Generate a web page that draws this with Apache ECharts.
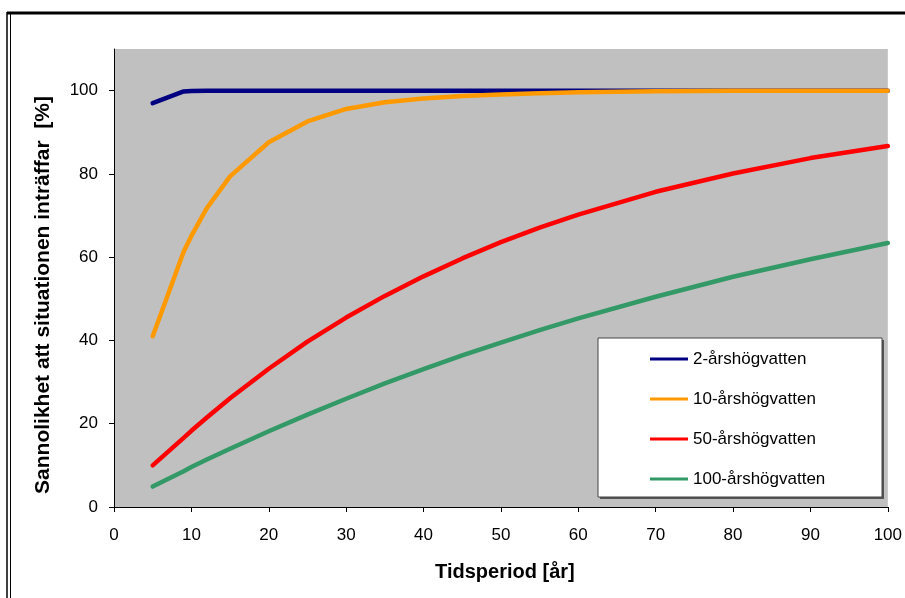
<!DOCTYPE html>
<html>
<head>
<meta charset="utf-8">
<script src="https://cdn.jsdelivr.net/npm/echarts@6/dist/echarts.min.js"></script>
<style>
html,body{margin:0;padding:0;background:#fff;}
#chart{width:905px;height:598px;}
</style>
</head>
<body>
<div id="chart"></div>
<script>
const years = [5, 9, 10, 12, 15, 20, 25, 30, 35, 40, 45, 50, 55, 60, 70, 80, 90, 100];
const seriesNames = ['2-årshögvatten', '10-årshögvatten', '50-årshögvatten', '100-årshögvatten'];
const hw2   = [97, 99.8, 99.9, 100, 100, 100, 100, 100, 100, 100, 100, 100, 100, 100, 100, 100, 100, 100];
const hw10  = [41, 61.3, 65.1, 71.8, 79.4, 87.6, 92.6, 95.6, 97.2, 98.1, 98.7, 99.1, 99.4, 99.6, 99.85, 100, 100, 100];
const hw50  = [10, 16.6, 18.3, 21.5, 26.1, 33.2, 39.7, 45.5, 50.7, 55.4, 59.7, 63.6, 67.1, 70.2, 75.7, 80.1, 83.8, 86.7];
const hw100 = [4.9, 8.6, 9.6, 11.4, 14, 18.2, 22.2, 26, 29.7, 33.1, 36.4, 39.5, 42.5, 45.3, 50.5, 55.3, 59.5, 63.4];
const xTicks = [0, 10, 20, 30, 40, 50, 60, 70, 80, 90, 100];
const yTicks = [0, 20, 40, 60, 80, 100];
const colors = ['#000080', '#FF9900', '#FF0000', '#339966'];
const allValues = [hw2, hw10, hw50, hw100];

const FONT = '"Liberation Sans", Arial, sans-serif';
const chart = echarts.init(document.getElementById('chart'));

const series = seriesNames.map((name, i) => ({
  name: name,
  type: 'line',
  data: years.map((x, j) => [x, allValues[i][j]]),
  showSymbol: false,
  lineStyle: { color: colors[i], width: 4.5, cap: 'round', join: 'round' },
  itemStyle: { color: colors[i] },
  emphasis: { disabled: true },
  animation: false
}));

chart.setOption({
  backgroundColor: '#ffffff',
  animation: false,
  grid: {
    left: 114, top: 49, width: 775, height: 458,
    show: true, backgroundColor: '#C0C0C0', borderWidth: 0
  },
  xAxis: {
    type: 'value', min: 0, max: 100, interval: 10,
    name: 'Tidsperiod [år]', nameLocation: 'middle', nameGap: 55,
    nameTextStyle: { fontFamily: FONT, fontSize: 20, fontWeight: 'bold', color: '#000', padding: [0, 0, 0, 8] },
    axisLine: { show: true, lineStyle: { color: '#000', width: 1 } },
    axisTick: { show: true, length: 5, inside: false, lineStyle: { color: '#000' }, customValues: xTicks },
    axisLabel: { fontFamily: FONT, fontSize: 17, color: '#000', margin: 20, customValues: xTicks },
    splitLine: { show: false }
  },
  yAxis: {
    type: 'value', min: 0, max: 110, interval: 10,
    name: 'Sannolikhet att situationen inträffar  [%]', nameLocation: 'middle', nameGap: 60,
    nameRotate: 90,
    nameTextStyle: { fontFamily: FONT, fontSize: 21, fontWeight: 'bold', color: '#000', padding: [0, 34, 0, 0] },
    axisLine: { show: true, lineStyle: { color: '#000', width: 1 } },
    axisTick: { show: true, length: 5, inside: false, lineStyle: { color: '#000' }, customValues: yTicks },
    axisLabel: { fontFamily: FONT, fontSize: 17, color: '#000', margin: 16, customValues: yTicks },
    splitLine: { show: false }
  },
  legend: {
    orient: 'vertical', left: 650, top: 349, padding: 0,
    icon: 'rect', itemWidth: 38, itemHeight: 3, itemGap: 20,
    textStyle: { fontFamily: FONT, fontSize: 17, color: '#000', lineHeight: 20 },
    data: seriesNames, selectedMode: false, z: 10
  },
  graphic: [
    { type: 'rect', shape: { x: 600, y: 340, width: 284, height: 159 }, style: { fill: '#555' }, z: 5 },
    { type: 'rect', shape: { x: 598, y: 338, width: 284, height: 159 }, style: { fill: '#fff', stroke: '#444', lineWidth: 1 }, z: 6 },
    { type: 'line', shape: { x1: 7, y1: 13, x2: 905, y2: 13 }, style: { stroke: '#000', lineWidth: 3 }, z: 6 },
    { type: 'line', shape: { x1: 7, y1: 12, x2: 7, y2: 598 }, style: { stroke: '#000', lineWidth: 1.5 }, z: 6 },
    { type: 'line', shape: { x1: 10.5, y1: 14, x2: 10.5, y2: 598 }, style: { stroke: '#000', lineWidth: 1 }, z: 6 }
  ],
  series: series
});
</script>
</body>
</html>
